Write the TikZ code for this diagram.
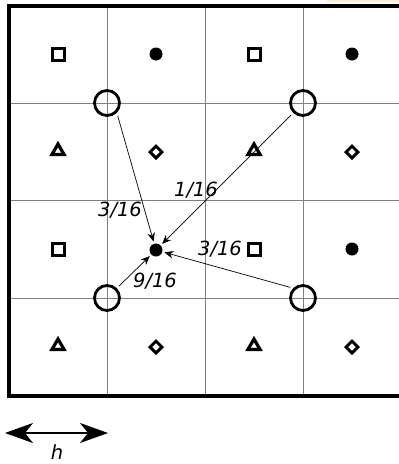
\documentclass[tikz,border=0pt]{standalone}
\usepackage{fontspec}
\setsansfont{DejaVu Sans}
\usetikzlibrary{arrows.meta,shapes.geometric}
\definecolor{gridcol}{gray}{0.5}
\definecolor{tabcol}{RGB}{250,238,208}
\tikzset{
  gridln/.style={draw=gridcol,line width=1pt},
  frameln/.style={draw=black,line width=3.2pt,line join=miter},
  sqmark/.style={draw,rectangle,line width=3pt,inner sep=0pt,minimum size=12pt},
  dotmark/.style={fill=black,circle,inner sep=0pt,minimum size=13pt},
  trimark/.style={draw,regular polygon,regular polygon sides=3,line width=3.2pt,inner sep=0pt,minimum size=14pt},
  diamark/.style={draw,diamond,aspect=1,line width=3pt,inner sep=0pt,minimum size=13pt},
  src/.style={draw,circle,line width=2.8pt,inner sep=0pt,minimum size=25pt},
  wlab/.style={font=\sffamily\itshape\fontsize{19.5}{22}\selectfont},
  warr/.style={-{Stealth[length=9pt,width=7.5pt]},line width=0.7pt,shorten <=3pt,shorten >=2pt},
}
\begin{document}
\begin{tikzpicture}[x=1pt,y=-1pt]
  \useasboundingbox (0,0) rectangle (399,464);
  \fill[tabcol] (327,0) rectangle (399,2);
  % grid
  \draw[gridln] (107,6) -- (107,396);
  \draw[gridln] (205,6) -- (205,396);
  \draw[gridln] (303,6) -- (303,396);
  \draw[gridln] (9,103) -- (399,103);
  \draw[gridln] (9,200) -- (399,200);
  \draw[gridln] (9,298) -- (399,298);
  \draw[frameln] (404,6) -- (9,6) -- (9,396) -- (404,396);
  % markers
  \node[sqmark] (s11) at (58,54) {};
  \node[dotmark] (d12) at (156,54) {};
  \node[sqmark] (s13) at (254,54) {};
  \node[dotmark] (d14) at (352,54) {};
  \node[trimark] (t21) at (58,151) {};
  \node[diamark] (m22) at (156,152) {};
  \node[trimark] (t23) at (254,151) {};
  \node[diamark] (m24) at (352,152) {};
  \node[sqmark] (s31) at (58,249) {};
  \node[dotmark] (tgt) at (156,250) {};
  \node[sqmark] (s33) at (254,249) {};
  \node[dotmark] (d34) at (352,249) {};
  \node[trimark] (t41) at (58,346) {};
  \node[diamark] (m42) at (156,347) {};
  \node[trimark] (t43) at (254,346) {};
  \node[diamark] (m44) at (352,347) {};
  % coarse points
  \node[src] (tl) at (107,103) {};
  \node[src] (tr) at (303,103) {};
  \node[src] (bl) at (107,298) {};
  \node[src] (br) at (303,298) {};
  \draw[warr] (tl.south east) -- (tgt);
  \draw[warr] (tr.south west) -- (tgt);
  \draw[warr] (bl.north east) -- (tgt);
  \draw[warr] (br.north west) -- (tgt);
  \node[wlab] (w1) at (120,210) {3/16};
  \node[wlab] (w2) at (196,190) {1/16};
  \node[wlab] (w3) at (220,249) {3/16};
  \node[wlab] (w4) at (155,281) {9/16};
  % spacing
  \coordinate (hl) at (5,433);
  \coordinate (hr) at (108,433);
  \draw[{Stealth[length=28pt,width=20pt,inset=8pt]}-{Stealth[length=28pt,width=20pt,inset=8pt]},line width=1.5pt] (hl) -- (hr);
  \node[wlab] (hlab) at (57,452) {h};
\end{tikzpicture}
\end{document}
